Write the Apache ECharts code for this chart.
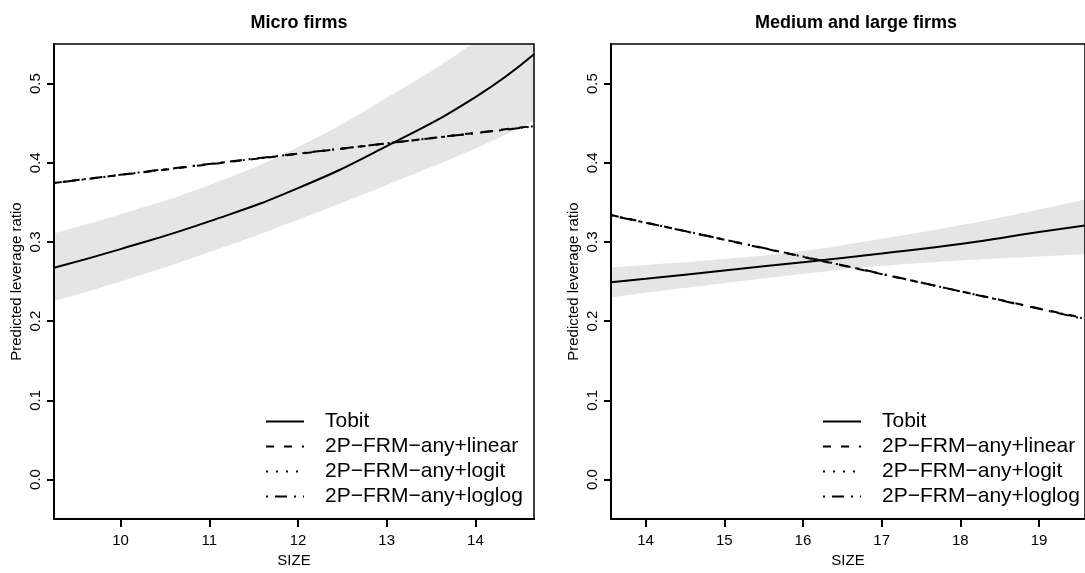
<!DOCTYPE html>
<html>
<head>
<meta charset="utf-8">
<script src="https://cdn.jsdelivr.net/npm/echarts@6/dist/echarts.min.js"></script>
<style>
html, body { margin: 0; padding: 0; background: #fff; }
#chart { width: 1085px; height: 573px; }
</style>
</head>
<body>
<div id="chart"></div>
<script>
// ---- data: micro firms ----
var microSize   = [9.25, 10, 11, 12, 13, 14, 14.66];
var microTobit  = [0.2675, 0.291, 0.326, 0.368, 0.421, 0.483, 0.537];
var microLower  = [0.225, 0.250, 0.287, 0.328, 0.372, 0.418, 0.453];
var microUpper  = [0.311, 0.335, 0.372, 0.420, 0.482, 0.553, 0.610];
var microLinear = [0.3746, 0.3846, 0.3980, 0.4112, 0.4245, 0.4378, 0.4466];
var microLogit  = [0.3744, 0.3848, 0.3983, 0.4114, 0.4245, 0.4376, 0.4462];
var microLoglog = [0.3742, 0.3849, 0.3985, 0.4116, 0.4246, 0.4374, 0.4460];

// ---- data: medium and large firms ----
var largeSize   = [13.56, 14, 15, 16, 17, 18, 19, 19.6];
var largeTobit  = [0.249, 0.2535, 0.264, 0.2745, 0.2855, 0.2975, 0.3125, 0.321];
var largeLower  = [0.230, 0.236, 0.248, 0.2595, 0.2695, 0.2765, 0.2815, 0.2845];
var largeUpper  = [0.268, 0.271, 0.2785, 0.2885, 0.304, 0.321, 0.341, 0.354];
var largeLinear = [0.334, 0.3245, 0.3028, 0.2811, 0.2594, 0.2378, 0.2161, 0.2031];
var largeLogit  = [0.3338, 0.3244, 0.3030, 0.2814, 0.2596, 0.2377, 0.2158, 0.2026];
var largeLoglog = [0.3336, 0.3243, 0.3031, 0.2816, 0.2598, 0.2376, 0.2155, 0.2022];

var yTicks = [0, 0.1, 0.2, 0.3, 0.4, 0.5];
var microTicks = [10, 11, 12, 13, 14];
var largeTicks = [14, 15, 16, 17, 18, 19];

var names = ['Tobit', '2P\u2212FRM\u2212any+linear', '2P\u2212FRM\u2212any+logit', '2P\u2212FRM\u2212any+loglog'];

var FONT = 'Liberation Sans, Arial, Helvetica, sans-serif';

function pairs(xs, ys) {
    return xs.map(function (x, i) { return [x, ys[i]]; });
}

function xAx(idx, min, max, ticks) {
    return {
        type: 'value', gridIndex: idx, min: min, max: max, z: 5,
        name: 'SIZE', nameLocation: 'middle', nameGap: 33,
        nameTextStyle: { color: '#000', fontSize: 15, fontFamily: FONT },
        splitLine: { show: false },
        axisLine: { show: true, onZero: false, lineStyle: { color: '#000', width: 2 } },
        axisTick: { show: true, length: 8, customValues: ticks, lineStyle: { color: '#000', width: 2 } },
        axisLabel: { customValues: ticks, margin: 14, color: '#000', fontSize: 15, fontFamily: FONT }
    };
}
function yAx(idx) {
    return {
        type: 'value', gridIndex: idx, min: -0.05, max: 0.55, z: 5,
        name: 'Predicted leverage ratio', nameLocation: 'middle', nameGap: 30,
        nameTextStyle: { color: '#000', fontSize: 15, fontFamily: FONT },
        splitLine: { show: false },
        axisLine: { show: true, onZero: false, lineStyle: { color: '#000', width: 2 } },
        axisTick: { show: true, length: 7, customValues: yTicks, lineStyle: { color: '#000', width: 2 } },
        axisLabel: {
            customValues: yTicks, rotate: 90, margin: 11, color: '#000', fontSize: 15, fontFamily: FONT,
            formatter: function (v) { return v.toFixed(1); }
        }
    };
}

// band: grey area down from the upper bound, then white area down from the lower bound
function panelSeries(idx, xs, tob, lo, up, lin, lgt, llg) {
    var base = { type: 'line', xAxisIndex: idx, yAxisIndex: idx, symbol: 'none', smooth: true, silent: true };
    return [
        Object.assign({}, base, { name: 'band-up-' + idx, data: pairs(xs, up),
            lineStyle: { width: 0, opacity: 0 }, areaStyle: { color: '#e5e5e5', opacity: 1, origin: 'start' } }),
        Object.assign({}, base, { name: 'band-lo-' + idx, data: pairs(xs, lo),
            lineStyle: { width: 0, opacity: 0 }, areaStyle: { color: '#fff', opacity: 1, origin: 'start' } }),
        Object.assign({}, base, { name: names[0], data: pairs(xs, tob),
            lineStyle: { color: '#000', width: 2, type: 'solid' } }),
        Object.assign({}, base, { name: names[1], data: pairs(xs, lin),
            lineStyle: { color: '#000', width: 2, type: [8, 10] } }),
        Object.assign({}, base, { name: names[2], data: pairs(xs, lgt),
            lineStyle: { color: '#000', width: 2, type: [2, 8] } }),
        Object.assign({}, base, { name: names[3], data: pairs(xs, llg),
            lineStyle: { color: '#000', width: 2, type: [2, 7, 12, 7] } })
    ];
}

function legendAt(left) {
    return {
        data: names, orient: 'vertical', left: left, top: 411, padding: 0,
        itemWidth: 38, itemHeight: 21, itemGap: 4,
        itemStyle: { opacity: 0 },
        selectedMode: false,
        textStyle: { color: '#000', fontSize: 21, fontFamily: FONT, padding: [0, 0, 0, 16] }
    };
}

var chart = echarts.init(document.getElementById('chart'));
var option = {
    backgroundColor: '#fff',
    animation: false,
    title: [
        { text: 'Micro firms', left: 294, top: 9, textAlign: 'center',
          textStyle: { fontSize: 18, fontWeight: 'bold', color: '#000', fontFamily: FONT } },
        { text: 'Medium and large firms', left: 851, top: 9, textAlign: 'center',
          textStyle: { fontSize: 18, fontWeight: 'bold', color: '#000', fontFamily: FONT } }
    ],
    legend: [legendAt(265), legendAt(822)],
    grid: [
        { left: 54, top: 44, width: 480, height: 480, z: 5, show: true, borderColor: '#000', borderWidth: 1.5, backgroundColor: 'transparent' },
        { left: 611, top: 44, width: 480, height: 480, z: 5, show: true, borderColor: '#000', borderWidth: 1.5, backgroundColor: 'transparent' }
    ],
    xAxis: [xAx(0, 9.25, 14.66, microTicks), xAx(1, 13.56, 19.585, largeTicks)],
    yAxis: [yAx(0), yAx(1)],
    series: panelSeries(0, microSize, microTobit, microLower, microUpper, microLinear, microLogit, microLoglog)
        .concat(panelSeries(1, largeSize, largeTobit, largeLower, largeUpper, largeLinear, largeLogit, largeLoglog))
};
chart.setOption(option);
</script>
</body>
</html>
